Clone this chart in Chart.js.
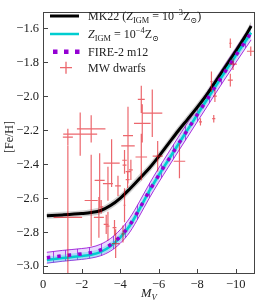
<!DOCTYPE html>
<html>
<head>
<meta charset="utf-8">
<script src="https://cdn.jsdelivr.net/npm/chart.js@4.4.0/dist/chart.umd.min.js"></script>
<style>
  html, body { margin: 0; padding: 0; background: #fff; }
  #wrap { width: 256px; height: 303px; }
</style>
</head>
<body>
<div id="wrap"><canvas id="chart"></canvas></div>
<script>
// model tracks, all sampled on the same M_V grid
var mv = [-0.2, -1, -2, -2.5, -3, -3.5, -4, -4.5, -5, -5.5, -6, -6.5, -7, -7.5, -8, -8.5, -9, -9.5, -10, -10.5, -10.8];

var mk22   = [-2.703, -2.698, -2.690, -2.684, -2.672, -2.643, -2.600, -2.545, -2.485, -2.425, -2.355, -2.280, -2.205, -2.135, -2.065, -1.990, -1.905, -1.820, -1.735, -1.645, -1.585];
var mk22Lo = [-2.721, -2.716, -2.708, -2.703, -2.692, -2.665, -2.624, -2.570, -2.511, -2.451, -2.381, -2.306, -2.231, -2.161, -2.091, -2.016, -1.931, -1.846, -1.761, -1.671, -1.611];
var mk22Hi = [-2.685, -2.680, -2.672, -2.665, -2.652, -2.621, -2.576, -2.520, -2.459, -2.399, -2.329, -2.254, -2.179, -2.109, -2.039, -1.964, -1.879, -1.794, -1.709, -1.619, -1.559];

var zigm4   = [-2.963, -2.952, -2.940, -2.932, -2.915, -2.882, -2.832, -2.762, -2.665, -2.560, -2.465, -2.375, -2.285, -2.197, -2.108, -2.020, -1.932, -1.845, -1.760, -1.675, -1.625];
var zigm4Lo = [-2.983, -2.972, -2.960, -2.952, -2.936, -2.904, -2.856, -2.787, -2.690, -2.585, -2.490, -2.400, -2.310, -2.222, -2.133, -2.045, -1.957, -1.870, -1.785, -1.700, -1.650];
var zigm4Hi = [-2.943, -2.932, -2.920, -2.912, -2.894, -2.860, -2.808, -2.737, -2.640, -2.535, -2.440, -2.350, -2.260, -2.172, -2.083, -1.995, -1.907, -1.820, -1.735, -1.650, -1.600];

var fire   = [-2.950, -2.939, -2.928, -2.920, -2.904, -2.874, -2.826, -2.758, -2.663, -2.560, -2.465, -2.375, -2.285, -2.197, -2.108, -2.020, -1.932, -1.845, -1.760, -1.675, -1.625];
var fireLo = [-2.982, -2.971, -2.960, -2.952, -2.938, -2.911, -2.866, -2.800, -2.705, -2.602, -2.507, -2.417, -2.327, -2.239, -2.150, -2.062, -1.974, -1.887, -1.802, -1.717, -1.667];
var fireHi = [-2.918, -2.907, -2.896, -2.888, -2.870, -2.837, -2.786, -2.716, -2.621, -2.518, -2.423, -2.333, -2.243, -2.155, -2.066, -1.978, -1.890, -1.803, -1.718, -1.633, -1.583];

// MW dwarfs (M_V, [Fe/H]) with errors
var mwMv     = [-1.29, -1.29, -1.93, -2.50, -2.50, -3.56, -2.94, -3.37, -2.90, -3.02, -3.37, -3.71, -3.77, -3.28, -3.89, -5.10, -5.67, -5.15, -4.41, -4.41, -5.10, -5.95, -7.08, -4.23, -4.23, -4.41, -4.56, -4.39, -4.23, -4.15, -8.17, -8.86, -8.74, -8.92, -9.72, -9.86, -9.72, -10.78];
var mwFeH    = [-2.240, -2.712, -2.222, -2.191, -2.613, -2.393, -2.495, -2.514, -2.712, -2.650, -2.764, -2.773, -2.867, -2.754, -2.527, -2.018, -2.099, -2.159, -2.231, -2.291, -2.357, -2.352, -2.382, -2.376, -2.405, -2.443, -2.433, -2.490, -2.641, -2.810, -2.150, -2.131, -1.913, -1.998, -1.904, -1.810, -1.687, -1.734];
var mwMvErr  = [0.26, 0.74, 0.88, 0.74, 0.34, 0.42, 0.26, 0.26, 0.26, 0.10, 0.08, 0.10, 0.20, 0.13, 0.15, 0.18, 0.52, 0.43, 0.26, 0.35, 0.30, 0.26, 0.30, 0.12, 0.10, 0.12, 0.10, 0.10, 0.05, 0.08, 0.08, 0.08, 0.06, 0.10, 0.13, 0.20, 0.06, 0.20];
var mwFeHErr = [0.05, 0.42, 0.127, 0.08, 0.27, 0.14, 0.16, 0.10, 0.12, 0.04, 0.085, 0.045, 0.085, 0.057, 0.06, 0.08, 0.14, 0.113, 0.17, 0.05, 0.137, 0.09, 0.10, 0.06, 0.05, 0.07, 0.06, 0.05, 0.10, 0.05, 0.022, 0.022, 0.06, 0.035, 0.037, 0.034, 0.028, 0.028];

var xTicks = [0, -2, -4, -6, -8, -10];
var yTicks = [-3.0, -2.8, -2.6, -2.4, -2.2, -2.0, -1.8, -1.6];

var FONT = '"Liberation Serif", "DejaVu Serif", serif';
var RED = 'rgba(225,10,20,0.62)';

function pts(xs, ys) {
  return xs.map(function (x, i) { return { x: x, y: ys[i] }; });
}

var errData = [];
for (var i = 0; i < mwMv.length; i++) {
  var x = mwMv[i], y = mwFeH[i], dx = mwMvErr[i], dy = mwFeHErr[i];
  errData.push({ x: x - dx, y: y }, { x: x + dx, y: y }, { x: x, y: null },
               { x: x, y: y - dy }, { x: x, y: y + dy }, { x: x, y: null });
}

var canvas = document.getElementById('chart');
var ctx = canvas.getContext('2d');

// lavender fill with vertical hatching for the FIRE-2 band
var tile = document.createElement('canvas');
tile.width = 12; tile.height = 12;
var tc = tile.getContext('2d');
tc.fillStyle = 'rgba(185,145,255,0.35)';
tc.fillRect(0, 0, 12, 12);
tc.fillStyle = 'rgba(148,0,211,0.7)';
tc.fillRect(5, 0, 1, 12);
var hatch = ctx.createPattern(tile, 'repeat');

function fmt(v, dec) {
  if (Math.abs(v) < 1e-9) return '0';
  return (v < 0 ? '\u2212' : '') + Math.abs(v).toFixed(dec);
}

function rich(c, x, y, parts, size) {
  parts.forEach(function (p) {
    var s = p[1], fs = size, off = 0, it = (s === 'i');
    if (s === 'sb' || s === 'sbi') { fs = size * 0.7; off = size * 0.22; it = (s === 'sbi'); }
    if (s === 'sp') { fs = size * 0.7; off = -size * 0.38; }
    c.font = (it ? 'italic ' : '') + fs + 'px ' + FONT;
    c.fillText(p[0], x, y + off);
    x += c.measureText(p[0]).width;
  });
  return x;
}

var decor = {
  id: 'decor',
  afterDraw: function (chart) {
    var c = chart.ctx, a = chart.chartArea;
    var xs = chart.scales.x, ys = chart.scales.y;
    c.save();
    // frame
    c.strokeStyle = '#444';
    c.lineWidth = 1;
    c.strokeRect(Math.round(a.left) + 0.5, Math.round(a.top) + 0.5,
                 Math.round(a.right - a.left) - 1, Math.round(a.bottom - a.top) - 1);
    // inward ticks
    c.beginPath();
    yTicks.forEach(function (v) {
      var p = Math.round(ys.getPixelForValue(v)) + 0.5;
      c.moveTo(a.left, p); c.lineTo(a.left + 5, p);
    });
    xTicks.forEach(function (v) {
      var p = Math.round(xs.getPixelForValue(v)) + 0.5;
      c.moveTo(p, a.bottom); c.lineTo(p, a.bottom - 4);
    });
    c.stroke();

    // legend
    var tx = 88, rows = [16, 34, 51.7, 67.7], fs = 12;
    c.lineCap = 'butt';
    c.strokeStyle = '#000'; c.lineWidth = 3;
    c.beginPath(); c.moveTo(50, rows[0]); c.lineTo(79, rows[0]); c.stroke();
    c.strokeStyle = '#00cdd0'; c.lineWidth = 2.5;
    c.beginPath(); c.moveTo(50, rows[1]); c.lineTo(79, rows[1]); c.stroke();
    c.fillStyle = '#9400d3';
    [53, 64, 75].forEach(function (q) { c.fillRect(q, rows[2] - 2.2, 4.5, 4.5); });
    c.strokeStyle = RED; c.lineWidth = 1.3;
    c.beginPath();
    c.moveTo(60, rows[3]); c.lineTo(72, rows[3]);
    c.moveTo(66, rows[3] - 6); c.lineTo(66, rows[3] + 6);
    c.stroke();

    c.fillStyle = '#222';
    c.textBaseline = 'alphabetic';
    rich(c, tx, rows[0] + 4, [['MK22 (', 'r'], ['Z', 'i'], ['IGM', 'sb'], [' = 10', 'r'], ['\u22123', 'sp'], ['Z', 'r'], ['\u2299', 'sb'], [')', 'r']], fs);
    rich(c, tx, rows[1] + 4, [['Z', 'i'], ['IGM', 'sb'], [' = 10', 'r'], ['\u22124', 'sp'], ['Z', 'r'], ['\u2299', 'sb']], fs);
    rich(c, tx, rows[2] + 4, [['FIRE-2 m12', 'r']], fs);
    rich(c, tx, rows[3] + 4, [['MW dwarfs', 'r']], fs);

    // axis labels
    rich(c, 141, 297, [['M', 'i'], ['V', 'sbi']], 12.5);
    c.translate(12.5, 137);
    c.rotate(-Math.PI / 2);
    c.textAlign = 'center';
    c.font = '12px ' + FONT;
    c.fillText('[Fe/H]', 0, 0);
    c.restore();
  }
};

new Chart(ctx, {
  type: 'line',
  data: {
    datasets: [
      { data: pts(mv, fireLo), borderColor: 'rgba(148,0,211,0.8)', borderWidth: 1, fill: false, order: 6 },
      { data: pts(mv, fireHi), borderColor: 'rgba(148,0,211,0.8)', borderWidth: 1, fill: '-1', backgroundColor: hatch, order: 6 },
      { data: pts(mv, zigm4Lo), borderWidth: 0, borderColor: 'rgba(0,0,0,0)', fill: false, order: 5 },
      { data: pts(mv, zigm4Hi), borderWidth: 0, borderColor: 'rgba(0,0,0,0)', fill: '-1', backgroundColor: 'rgba(0,225,225,0.28)', order: 5 },
      { data: pts(mv, mk22Lo), borderWidth: 0, borderColor: 'rgba(0,0,0,0)', fill: false, order: 4 },
      { data: pts(mv, mk22Hi), borderWidth: 0, borderColor: 'rgba(0,0,0,0)', fill: '-1', backgroundColor: 'rgba(120,120,120,0.35)', order: 4 },
      { data: pts(mv, mk22), borderColor: '#000', borderWidth: 3, fill: false, order: 3 },
      { data: pts(mv, zigm4), borderColor: '#00cdd0', borderWidth: 2.5, fill: false, order: 2 },
      { data: pts(mv, fire), borderColor: '#9400d3', borderWidth: 3.5, borderDash: [3.5, 7], borderCapStyle: 'butt', fill: false, order: 1 },
      { data: errData, borderColor: RED, borderWidth: 1.2, spanGaps: false, tension: 0, cubicInterpolationMode: 'default', fill: false, order: 0 }
    ]
  },
  options: {
    responsive: true,
    maintainAspectRatio: false,
    animation: false,
    events: [],
    layout: { padding: { top: 0, right: 1, bottom: 0, left: 0 } },
    elements: {
      point: { radius: 0 },
      line: { cubicInterpolationMode: 'monotone' }
    },
    plugins: { legend: { display: false }, tooltip: { enabled: false } },
    scales: {
      x: {
        type: 'linear', reverse: true, min: -11, max: 0,
        grid: { display: false, drawTicks: false }, border: { display: false },
        afterBuildTicks: function (s) { s.ticks = xTicks.map(function (v) { return { value: v }; }); },
        afterFit: function (s) { s.height = 30; },
        ticks: { padding: 4, color: '#222', font: { family: FONT, size: 12.5 }, maxRotation: 0,
                 callback: function (v) { return fmt(v, 0); } }
      },
      y: {
        type: 'linear', min: -3.04, max: -1.5,
        grid: { display: false, drawTicks: false }, border: { display: false },
        afterBuildTicks: function (s) { s.ticks = yTicks.map(function (v) { return { value: v }; }); },
        afterFit: function (s) { s.width = 43; },
        ticks: { padding: 4, color: '#222', font: { family: FONT, size: 12.5 },
                 callback: function (v) { return fmt(v, 1); } }
      }
    }
  },
  plugins: [decor]
});
</script>
</body>
</html>
